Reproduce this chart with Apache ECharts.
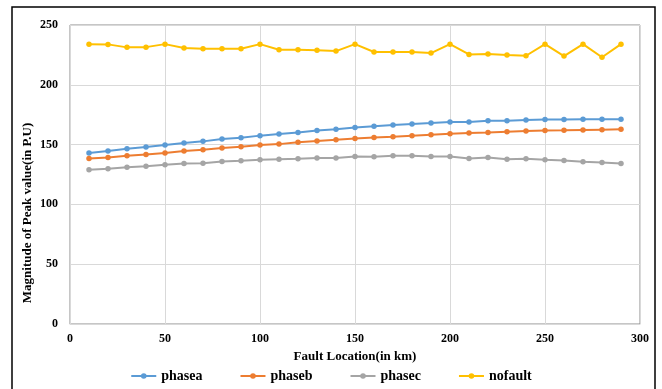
<!DOCTYPE html>
<html>
<head>
<meta charset="utf-8">
<script src="https://cdn.jsdelivr.net/npm/echarts@6/dist/echarts.min.js"></script>
<style>
html,body{margin:0;padding:0;background:#fff;}
#chart{width:662px;height:389px;}
</style>
</head>
<body>
<div id="chart"></div>
<script>
var xValues = [10,20,30,40,50,60,70,80,90,100,110,120,130,140,150,160,170,180,190,200,210,220,230,240,250,260,270,280,290];
var phasea = [142.9,144.6,146.6,147.9,149.6,151.3,152.7,154.6,155.8,157.5,158.8,160.2,161.7,162.8,164.2,165.3,166.4,167.2,168.0,168.9,168.9,170.0,170.0,170.6,170.9,170.9,171.2,171.2,171.2];
var phaseb = [138.4,139.3,140.7,141.8,142.9,144.6,145.7,147.1,148.3,149.6,150.4,151.9,153.0,154.1,155.1,156.0,156.6,157.5,158.3,159.1,159.7,160.2,160.8,161.3,161.7,161.9,162.2,162.5,162.8];
var phasec = [129.0,129.8,131.1,132.0,133.1,134.2,134.5,135.9,136.5,137.3,137.8,138.2,138.7,138.7,140.1,139.9,140.7,140.7,140.1,140.1,138.4,139.3,137.8,138.2,137.3,136.8,135.7,135.1,134.2];
var nofault = [234.0,233.8,231.3,231.5,234.0,230.7,230.2,230.2,230.2,234.0,229.3,229.3,228.8,228.2,234.0,227.4,227.4,227.4,226.5,234.0,225.4,225.7,224.9,224.3,234.0,224.0,234.0,223.0,234.0];
var seriesNames = ['phasea','phaseb','phasec','nofault'];
var seriesColors = ['#5B9BD5','#ED7D31','#A5A5A5','#FFC000'];
var xTitle = 'Fault Location(in km)';
var yTitle = 'Magnitude of Peak value(in P.U)';

function pairs(vals){ return xValues.map(function(x,i){ return [x, vals[i]]; }); }
var allData = [phasea, phaseb, phasec, nofault];
var font = '"Liberation Serif", "Times New Roman", serif';

var chart = echarts.init(document.getElementById('chart'));
chart.setOption({
  animation: false,
  backgroundColor: '#fff',
  grid: { left: 70, right: 22, top: 25, bottom: 65, show: true, borderColor: '#8c8c8c', borderWidth: 1 },
  graphic: [
    { type: 'rect', shape: { x: 12, y: 7, width: 643, height: 400 }, style: { fill: null, stroke: '#000', lineWidth: 1.5 }, silent: true },
    { type: 'text', x: 28, y: 213, rotation: Math.PI/2,
      style: { text: yTitle, font: 'bold 13px ' + font, fill: '#000', textAlign: 'center', textVerticalAlign: 'middle' } }
  ],
  legend: {
    data: seriesNames, bottom: 1, left: 'center', itemWidth: 25, itemHeight: 7, itemGap: 37,
    textStyle: { fontFamily: font, fontWeight: 'bold', fontSize: 14, color: '#000' }
  },
  xAxis: {
    type: 'value', min: 0, max: 300, interval: 50,
    name: xTitle, nameLocation: 'middle', nameGap: 24,
    nameTextStyle: { fontFamily: font, fontWeight: 'bold', fontSize: 13, color: '#000' },
    axisLine: { show: true, lineStyle: { color: '#d9d9d9' } },
    axisTick: { show: false },
    axisLabel: { fontFamily: font, fontWeight: 'bold', fontSize: 12, color: '#000', margin: 9 },
    splitLine: { show: true, lineStyle: { color: '#d9d9d9' } }
  },
  yAxis: {
    type: 'value', min: 0, max: 250, interval: 50,
    axisLine: { show: true, lineStyle: { color: '#d9d9d9' } },
    axisTick: { show: false },
    axisLabel: { fontFamily: font, fontWeight: 'bold', fontSize: 12, color: '#000', margin: 12 },
    splitLine: { show: true, lineStyle: { color: '#d9d9d9' } }
  },
  series: seriesNames.map(function(n,i){
    return {
      name: n, type: 'line', data: pairs(allData[i]),
      symbol: 'circle', symbolSize: 5.5, smooth: false,
      lineStyle: { width: 2, color: seriesColors[i] },
      itemStyle: { color: seriesColors[i] }
    };
  })
});
</script>
</body>
</html>
